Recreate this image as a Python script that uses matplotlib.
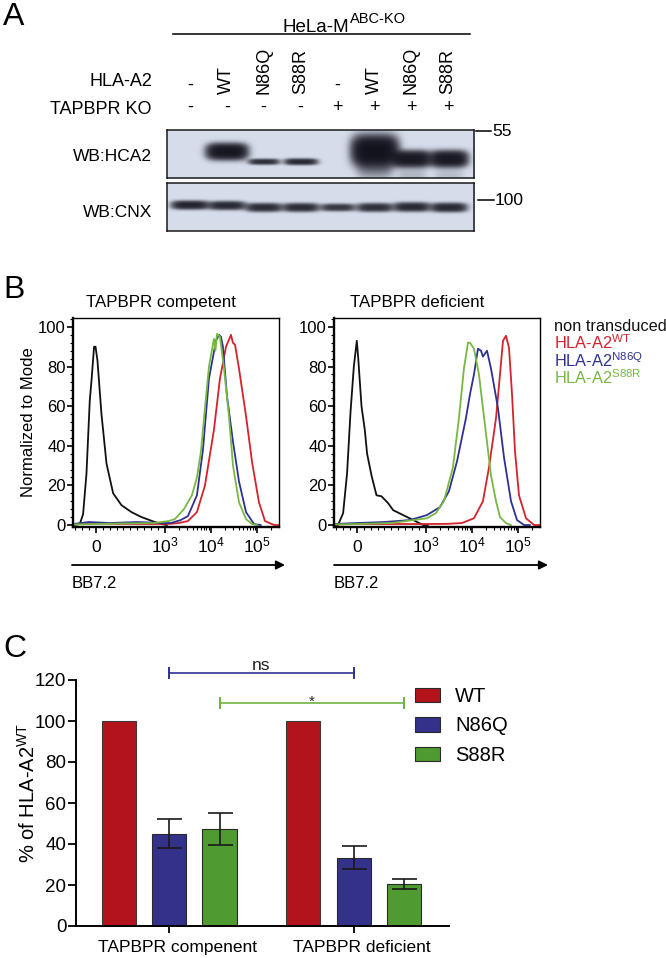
import numpy as np
import matplotlib
matplotlib.use('Agg')
import matplotlib.pyplot as plt
from matplotlib import transforms
from matplotlib.patches import Patch
from matplotlib.ticker import FixedLocator, MultipleLocator

plt.rcParams['font.family'] = ['Liberation Sans', 'DejaVu Sans']
plt.rcParams['mathtext.fontset'] = 'custom'
plt.rcParams['mathtext.rm'] = 'Liberation Sans'
plt.rcParams['mathtext.it'] = 'Liberation Sans:italic'
plt.rcParams['mathtext.bf'] = 'Liberation Sans:bold'

W, H = 666, 958

# ---------------- data ----------------
# panel A, western blot lanes
lanes = np.arange(1, 9)
hla_a2 = ['-', 'WT', 'N86Q', 'S88R', '-', 'WT', 'N86Q', 'S88R']
tapbpr_ko = ['-', '-', '-', '-', '+', '+', '+', '+']
# band strength and relative mobility (0 = top of strip, 1 = bottom)
hca2_level = [0.0, 1.5, 0.9, 1.0, 0.0, 1.7, 1.4, 1.4]
hca2_mobility = [0.46, 0.46, 0.67, 0.67, 0.5, 0.44, 0.61, 0.61]
hca2_spread = [0.1, 0.15, 0.055, 0.06, 0.1, 0.28, 0.15, 0.15]
hca2_lanewidth = [0.5, 0.52, 0.39, 0.42, 0.5, 0.58, 0.48, 0.48]
hca2_smear = [0.0, 0.0, 0.0, 0.0, 0.0, 0.3, 0.1, 0.08]
cnx_level = [1.1, 1.0, 0.95, 0.95, 0.8, 0.9, 1.0, 1.0]
cnx_mobility = [0.47, 0.48, 0.52, 0.52, 0.52, 0.52, 0.51, 0.52]
cnx_spread = [0.08, 0.08, 0.08, 0.08, 0.07, 0.08, 0.085, 0.085]
cnx_lanewidth = [0.47, 0.47, 0.46, 0.46, 0.44, 0.46, 0.46, 0.46]

# panel B, flow cytometry histograms (BB7.2 fluorescence, % of mode)
comp_none_x = [-330, -232, -184, -135, -87, -62, -25, -4, 24, 82, 155, 251, 372, 517, 662, 855, 952, 1100]
comp_none_y = [0, 0.5, 5.5, 26, 63, 73, 90, 90, 83, 56, 31, 16, 10, 6.5, 4, 1.5, 0.5, 0]
comp_wt_x = [-330, -200, 0, 300, 800, 1300, 2000, 3160, 4960, 7410, 11600, 15700, 21200, 24000, 27200,
             30000, 33300, 40600, 57700, 77800, 110000, 149000, 234000, 300000]
comp_wt_y = [0.3, 0.5, 0.8, 0.6, 0.5, 0.6, 1, 2, 6.5, 20, 48, 74, 90, 93, 96, 92, 91, 79, 55, 32, 11.5, 2, 0, 0]
comp_n86q_x = [-330, -100, 200, 600, 1000, 1350, 2200, 3160, 4960, 6700, 9060, 12850, 14900, 16500, 18200,
               22300, 30100, 40600, 57700, 86100, 120000]
comp_n86q_y = [0.5, 1.5, 1, 1.5, 1, 1, 2.5, 4.5, 15, 38, 74, 93, 96, 95, 90, 65, 42, 22, 6.5, 0.5, 0]
comp_s88r_x = [-330, 0, 400, 840, 1200, 1650, 2590, 3860, 4960, 6060, 7410, 9060, 11600, 12500, 13500,
               15700, 19200, 24600, 30100, 40600, 57700, 77800, 100000]
comp_s88r_y = [0.3, 0.5, 0.8, 1, 2, 3, 8, 15, 24, 37, 59, 80, 94, 88, 96.5, 95, 79, 55, 30, 11.5, 3, 0.5, 0]

def_none_x = [-330, -271, -198, -141, -91, -43, 0, 19, 68, 116, 149, 213, 285, 358, 454, 526, 671, 816, 961, 1100]
def_none_y = [0, 0, 6, 26, 57, 80, 93, 85, 60, 48, 36, 25, 15, 14.5, 11, 7.5, 5, 2.5, 0, 0]
def_wt_x = [-330, 0, 500, 1000, 3000, 6060, 11050, 17300, 23400, 33300, 40600, 47200, 54800, 63700,
            74100, 86100, 105000, 149000, 223000, 300000]
def_wt_y = [0.3, 0.5, 0.5, 0.5, 0.6, 1, 3.4, 12, 29, 54, 76, 93, 95.5, 89.5, 66, 37, 15, 3.4, 0, 0]
def_n86q_x = [-330, 0, 400, 768, 1050, 2010, 3160, 4720, 7410, 9060, 11050, 13500, 15700, 17300, 21200,
              25900, 36700, 49700, 70500, 95100, 135000, 180000]
def_n86q_y = [0.5, 1, 1.5, 2.5, 5, 9, 17, 32, 54, 66, 76, 89, 88, 85, 88, 79, 59, 34, 12, 2.5, 0, 0]
def_s88r_x = [-330, 0, 500, 1050, 1650, 2460, 3860, 5220, 6700, 8190, 9060, 11050, 14200, 17300, 21200,
              25900, 33300, 40600, 54800, 70000]
def_s88r_y = [0.3, 0.5, 1, 3.4, 6, 12, 29, 54, 79, 92, 92, 89, 76, 59, 42, 25, 12, 4, 1, 0]

flow_labels = ['non transduced', 'HLA-A2$^{\\mathregular{WT}}$', 'HLA-A2$^{\\mathregular{N86Q}}$',
               'HLA-A2$^{\\mathregular{S88R}}$']
flow_colors = ['#111111', '#D3232C', '#2E3192', '#77B843']

# panel C, bar chart
groups = ['TAPBPR compenent', 'TAPBPR deficient']
variants = ['WT', 'N86Q', 'S88R']
wt_mean = [100, 100]
n86q_mean = [45.0, 33.3]
s88r_mean = [47.5, 20.5]
n86q_sem = [7.0, 5.7]
s88r_sem = [7.8, 2.4]
bar_colors = ['#B3141C', '#33318A', '#4F9B31']

# ---------------- figure ----------------
fig = plt.figure(figsize=(W / 100, H / 100), dpi=100)


def px_axes(x0, y0, x1, y1):
    return fig.add_axes([x0 / W, 1 - y1 / H, (x1 - x0) / W, (y1 - y0) / H])


# ---- panel A: blot strips ----
def blot_strip(ax, level, mob, spread, lw, smear=None):
    gx = np.linspace(0.38, 8.70, 620)
    gy = np.linspace(0, 1, 100)
    X, Y = np.meshgrid(gx, gy)
    s = np.zeros_like(X)
    for i, lane in enumerate(lanes):
        if level[i] <= 0:
            continue
        prof_x = np.exp(-np.abs((X - lane) / lw[i]) ** 4)
        prof_y = np.exp(-np.abs((Y - mob[i]) / spread[i]) ** 2.6)
        s += level[i] * prof_x * prof_y
        if smear is not None and smear[i] > 0:
            tail = np.exp(-np.abs((Y - mob[i] - 0.35) / 0.22) ** 2)
            s += smear[i] * np.exp(-np.abs((X - lane) / (0.8 * lw[i])) ** 4) * tail
    dark = 1 - np.exp(-2.0 * s)
    bg = np.array([0.84, 0.865, 0.92])
    ink = np.array([0.05, 0.05, 0.09])
    img = bg[None, None, :] * (1 - dark[..., None]) + ink[None, None, :] * dark[..., None]
    ax.imshow(img, extent=[0.38, 8.70, 1, 0], aspect='auto', interpolation='bilinear')
    ax.set_xlim(0.38, 8.70)
    ax.set_ylim(1, 0)
    ax.set_xticks([])
    ax.set_yticks([])
    for sp in ax.spines.values():
        sp.set_linewidth(1.1)
        sp.set_color('#1a1a1a')


blot1 = px_axes(167, 130, 474, 178)
blot_strip(blot1, hca2_level, hca2_mobility, hca2_spread, hca2_lanewidth, hca2_smear)
blot2 = px_axes(167, 183, 474, 231)
blot_strip(blot2, cnx_level, cnx_mobility, cnx_spread, cnx_lanewidth)

# ---- panel B: histograms ----
flow_sets = [
    [(comp_none_x, comp_none_y), (comp_wt_x, comp_wt_y), (comp_n86q_x, comp_n86q_y), (comp_s88r_x, comp_s88r_y)],
    [(def_none_x, def_none_y), (def_wt_x, def_wt_y), (def_n86q_x, def_n86q_y), (def_s88r_x, def_s88r_y)],
]
minor_x = [-300, -200, -100, 100, 200, 300, 400, 500, 600, 700, 800, 900]
minor_x += [m * 10 ** e for e in (3, 4) for m in range(2, 10)] + [2e5]

flow_axes = []
for x0, curves in zip([73, 334], flow_sets):
    ax = px_axes(x0, 318, x0 + 206, 527)
    ax.set_xscale('symlog', linthresh=1000, linscale=1.35)
    for (xs, ys), col in zip(curves, flow_colors):
        ax.plot(xs, ys, color=col, lw=1.3)
    ax.set_xlim(-330, 3.0e5)
    ax.set_ylim(-1, 104.5)
    ax.xaxis.set_major_locator(FixedLocator([0, 1e3, 1e4, 1e5]))
    ax.xaxis.set_minor_locator(FixedLocator(minor_x))
    ax.set_xticklabels(['0', r'$\mathregular{10^3}$', r'$\mathregular{10^4}$', r'$\mathregular{10^5}$'])
    ax.yaxis.set_major_locator(MultipleLocator(20))
    ax.yaxis.set_minor_locator(MultipleLocator(4))
    ax.tick_params(axis='x', which='major', length=4.5, width=1.2, labelsize=12.5, pad=13.5)
    ax.tick_params(axis='x', which='minor', length=2.5, width=0.8)
    ax.tick_params(axis='y', which='major', length=4.5, width=1.2, labelsize=12, pad=0.8)
    ax.tick_params(axis='y', which='minor', length=2, width=0.8)
    for lab in ax.get_xticklabels():
        lab.set_verticalalignment('baseline')
    ax.spines['left'].set_linewidth(1.7)
    ax.spines['bottom'].set_linewidth(1.7)
    ax.spines['top'].set_linewidth(1.0)
    ax.spines['right'].set_linewidth(1.0)
    flow_axes.append(ax)

# ---- panel C: bar chart ----
axc = px_axes(76, 680, 449, 926)
gpos = np.arange(len(groups))
off, bw = 0.273, 0.184
ekw = dict(elinewidth=1.2, capthick=1.2, ecolor='#1a1a1a')
axc.bar(gpos - off, wt_mean, bw, color=bar_colors[0], edgecolor='#3a3a3a', lw=0.8)
axc.bar(gpos, n86q_mean, bw, yerr=n86q_sem, capsize=9, color=bar_colors[1], edgecolor='#2a2a2a', lw=0.8,
        error_kw=ekw)
axc.bar(gpos + off, s88r_mean, bw, yerr=s88r_sem, capsize=9, color=bar_colors[2], edgecolor='#2a2a2a', lw=0.8,
        error_kw=ekw)
axc.set_xlim(-0.503, 1.514)
axc.set_ylim(0, 120)
axc.set_yticks(np.arange(0, 121, 20))
axc.set_xticks(gpos)
axc.set_xticklabels(groups)
axc.tick_params(axis='y', length=6, width=1.3, labelsize=13.5, pad=1)
axc.tick_params(axis='x', length=5, width=1.3, labelsize=12.5, pad=5)
shift = transforms.ScaledTranslation(8 / 100, 0, fig.dpi_scale_trans)
for lab in axc.get_xticklabels():
    lab.set_transform(lab.get_transform() + shift)
for side in ['top', 'right']:
    axc.spines[side].set_visible(False)
axc.spines['left'].set_linewidth(1.4)
axc.spines['bottom'].set_linewidth(1.4)

# significance brackets
for idx, yb, col, mark, fs in [(0, 123.4, '#2E3192', 'ns', 12.5), (off, 108.8, '#6DB33F', '*', 11)]:
    xa, xb = gpos[0] + idx, gpos[1] + idx
    axc.plot([xa, xb], [yb, yb], color=col, lw=1.2, clip_on=False)
    axc.plot([xa, xa], [yb - 2.6, yb + 2.6], color=col, lw=1.4, clip_on=False)
    axc.plot([xb, xb], [yb - 2.6, yb + 2.6], color=col, lw=1.4, clip_on=False)
    axc.text((xa + xb) / 2, yb + (1.6 if mark == 'ns' else -1.2), mark, ha='center', va='baseline',
             fontsize=fs, color='#222222')

handles = [Patch(facecolor=c, edgecolor='#2a2a2a', lw=0.8) for c in bar_colors]
axc.legend(handles, variants, loc='upper left', bbox_to_anchor=(415 / W, 1 - 687 / H),
           bbox_transform=fig.transFigure, frameon=False, fontsize=14.5, handlelength=1.25,
           handleheight=0.75, handletextpad=0.75, labelspacing=0.52, borderpad=0, borderaxespad=0)

# ---- overlay for labels (pixel coordinates) ----
ov = fig.add_axes([0, 0, 1, 1])
ov.set_xlim(0, W)
ov.set_ylim(H, 0)
ov.axis('off')
ov.patch.set_visible(False)

for s, y in [('A', 25), ('B', 298), ('C', 657)]:
    ov.text(3, y, s, fontsize=23, va='baseline', ha='left')

# header of panel A
t = ov.text(283, 32, 'HeLa-M', fontsize=13.5, va='baseline', ha='left')
fig.canvas.draw()
bb = t.get_window_extent(fig.canvas.get_renderer())
ov.text(bb.x1 + 0.5, 23, 'ABC-KO', fontsize=10.5, va='baseline', ha='left')
ov.plot([173, 470], [34, 34], color='black', lw=1.1)

lane_tr = transforms.blended_transform_factory(blot1.transData, ov.transData)
ov.text(152, 86, 'HLA-A2', fontsize=13, ha='right', va='baseline')
ov.text(152, 114, 'TAPBPR KO', fontsize=13, ha='right', va='baseline')
for lane, a2, ko in zip(lanes, hla_a2, tapbpr_ko):
    if a2 == '-':
        ov.text(lane, 90, a2, transform=lane_tr, fontsize=13, ha='center', va='baseline')
    else:
        ov.text(lane, 94, a2, transform=lane_tr, fontsize=13, ha='center', va='bottom', rotation=90)
    ov.text(lane, 112, ko, transform=lane_tr, fontsize=13, ha='center', va='baseline')

ov.text(152, 156, 'WB:HCA2', fontsize=12.5, ha='right', va='center')
ov.text(152, 212, 'WB:CNX', fontsize=12.5, ha='right', va='center')
ov.plot([476, 491], [131, 131], color='black', lw=1.1)
ov.text(492, 131, '55', fontsize=12.5, ha='left', va='center')
ov.plot([478, 494], [200, 200], color='black', lw=1.1)
ov.text(495, 200, '100', fontsize=12.5, ha='left', va='center')

# panel B texts
ov.text(86, 307, 'TAPBPR competent', fontsize=12.2, va='baseline')
ov.text(350, 307, 'TAPBPR deficient', fontsize=12.2, va='baseline')
ov.text(29, 422, 'Normalized to Mode', fontsize=12, rotation=90, ha='center', va='center')
for xa, xb in [(72, 285), (334, 548)]:
    ov.annotate('', xy=(xb, 565), xytext=(xa, 565),
                arrowprops=dict(arrowstyle='-|>', lw=1.3, color='black', mutation_scale=13,
                                shrinkA=0, shrinkB=0))
    ov.text(xa, 588, 'BB7.2', fontsize=12, va='baseline')
for lab, col, yb in zip(flow_labels, flow_colors, [331, 349, 367, 384]):
    ov.text(554, yb, lab, color=col, fontsize=11.8, va='baseline')

# panel C y label
ov.text(28, 793, r'% of HLA-A2$^{\mathregular{WT}}$', fontsize=14.5, rotation=90, ha='center', va='center')

fig.savefig('out.png', dpi=100)
